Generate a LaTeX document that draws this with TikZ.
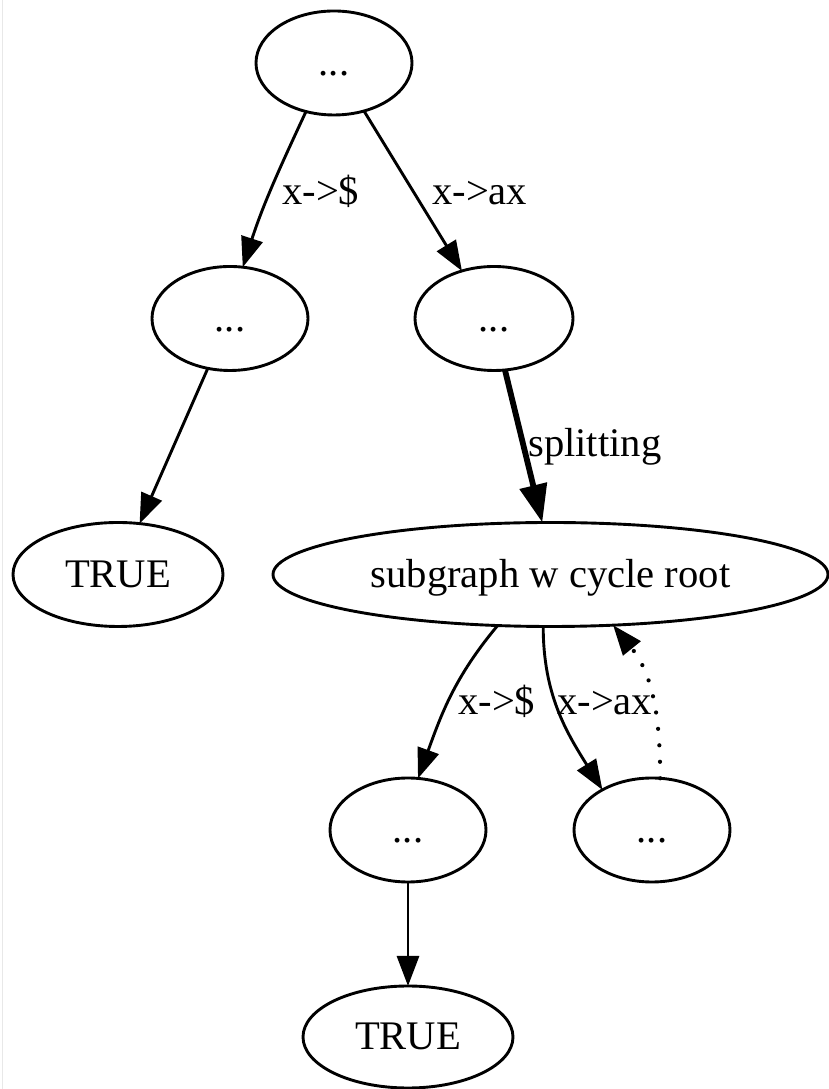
\documentclass[tikz,border=0pt]{standalone}
\usepackage{fontspec}
\setmainfont{Liberation Serif}
\usetikzlibrary{shapes.geometric,arrows.meta}
\begin{document}
\begin{tikzpicture}[x=1pt,y=1pt,
  every node/.style={font=\fontsize{40.6}{48}\selectfont},
  gvnode/.style={ellipse,draw,line width=2.9pt,inner sep=0pt,outer sep=0pt,text height=30pt,text depth=4pt,minimum height=104pt},
  gvedge/.style={line width=2.9pt,-{Triangle[length=30pt,width=22pt]}},
  gvthick/.style={line width=5.8pt,-{Triangle[length=38pt,width=27pt]}},
  gvdot/.style={line width=4.2pt,line cap=round,dash pattern=on 0pt off 16.5pt,-{Triangle[length=30pt,width=22pt]}},
  lbl/.style={anchor=base west,inner sep=0pt}
]
\useasboundingbox (0,0) rectangle (828,1089);
\fill[white] (0,0) rectangle (828,1089);
\draw[gray!18,line width=1.5pt] (2.5,0) -- (2.5,1089);

\node[gvnode,minimum width=156pt] (top) at (334,1026) {...};
\node[gvnode,minimum width=156pt] (ml) at (230,770.5) {...};
\node[gvnode,minimum width=158pt] (mr) at (494,770.5) {...};
\node[gvnode,minimum width=210pt] (tl) at (118,514.5) {TRUE};
\node[gvnode,minimum width=555pt] (sub) at (550.5,514.5) {subgraph w cycle root};
\node[gvnode,minimum width=156pt] (bl) at (408,259) {...};
\node[gvnode,minimum width=156pt] (br) at (652,259) {...};
\node[gvnode,minimum width=210pt,minimum height=102pt] (bt) at (408,52) {TRUE};

\draw[gvedge] (top.-120) to[out=-115,in=72] (ml.76);
\draw[gvedge] (top.-58) -- (mr.124);
\draw[gvedge] (ml.-114) -- (tl.67);
\draw[gvthick] (mr.-78) -- (sub.99);
\draw[gvedge] (sub.-136) to[out=-130,in=70] (bl.79);
\draw[gvedge] (sub.-98) to[out=-90,in=122] (br.141);
\draw[gvdot] (br.81) to[out=90,in=-51] (sub.-39);
\draw[gvedge] (bl.south) -- (bt.north);

\node[lbl] (l1) at (282,884) {x->\$};
\node[lbl] (l2) at (432,884) {x->ax};
\node[lbl] (l3) at (528,632) {splitting};
\node[lbl] (l4) at (458,374) {x->\$};
\node[lbl] (l5) at (557,374) {x->ax};
\end{tikzpicture}
\end{document}
